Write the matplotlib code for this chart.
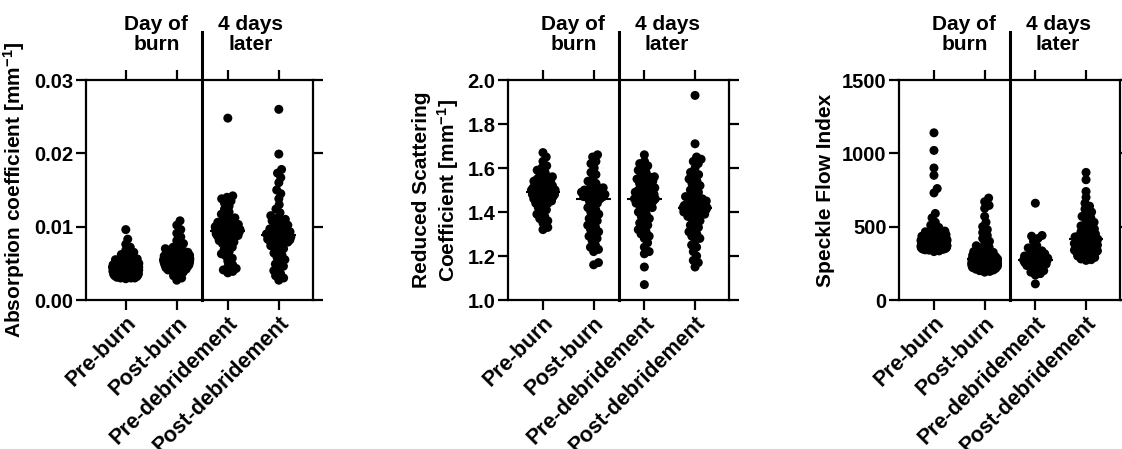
import numpy as np
import matplotlib
matplotlib.use("Agg")
import matplotlib.pyplot as plt

plt.rcParams['font.family'] = ['Liberation Sans', 'DejaVu Sans']
plt.rcParams['font.weight'] = 'bold'
plt.rcParams['mathtext.fontset'] = 'custom'
plt.rcParams['mathtext.rm'] = 'Liberation Sans:bold'
plt.rcParams['mathtext.bf'] = 'Liberation Sans:bold'
plt.rcParams['mathtext.it'] = 'Liberation Sans:bold:italic'

groups = ["Pre-burn", "Post-burn", "Pre-debridement", "Post-debridement"]

# absorption coefficient [mm-1]
abs_pre_burn = [0.0096, 0.0083, 0.0076, 0.0072, 0.0068, 0.0065, 0.0062, 0.0060, 0.0058, 0.0056,
                0.0055, 0.0054, 0.0053, 0.0052, 0.0051, 0.0050, 0.0050, 0.0049, 0.0049, 0.0048,
                0.0048, 0.0047, 0.0047, 0.0046, 0.0046, 0.0045, 0.0045, 0.0045, 0.0044, 0.0044,
                0.0043, 0.0043, 0.0042, 0.0042, 0.0041, 0.0041, 0.0040, 0.0040, 0.0039, 0.0039,
                0.0038, 0.0038, 0.0037, 0.0037, 0.0036, 0.0036, 0.0035, 0.0034, 0.0033, 0.0032,
                0.0031, 0.0030, 0.0030, 0.0029, 0.0030]
abs_post_burn = [0.0108, 0.0102, 0.0096, 0.0091, 0.0086, 0.0081, 0.0077, 0.0074, 0.0072, 0.0070,
                 0.0068, 0.0067, 0.0066, 0.0065, 0.0064, 0.0063, 0.0062, 0.0061, 0.0060, 0.0060,
                 0.0059, 0.0058, 0.0058, 0.0057, 0.0057, 0.0056, 0.0056, 0.0055, 0.0055, 0.0055,
                 0.0054, 0.0054, 0.0053, 0.0053, 0.0052, 0.0052, 0.0051, 0.0051, 0.0050, 0.0050,
                 0.0049, 0.0048, 0.0048, 0.0047, 0.0046, 0.0045, 0.0044, 0.0043, 0.0042, 0.0041,
                 0.0040, 0.0038, 0.0036, 0.0033, 0.0030, 0.0027]
abs_pre_debr = [0.0248, 0.0142, 0.0140, 0.0138, 0.0135, 0.0132, 0.0128, 0.0124, 0.0120, 0.0117,
                0.0114, 0.0112, 0.0110, 0.0108, 0.0106, 0.0104, 0.0103, 0.0102, 0.0101, 0.0100,
                0.0099, 0.0098, 0.0097, 0.0096, 0.0096, 0.0095, 0.0095, 0.0094, 0.0093, 0.0092,
                0.0091, 0.0090, 0.0089, 0.0088, 0.0087, 0.0086, 0.0085, 0.0083, 0.0081, 0.0079,
                0.0077, 0.0075, 0.0072, 0.0069, 0.0066, 0.0063, 0.0060, 0.0057, 0.0053, 0.0048,
                0.0045, 0.0043, 0.0041, 0.0039, 0.0037]
abs_post_debr = [0.0260, 0.0199, 0.0178, 0.0173, 0.0167, 0.0160, 0.0150, 0.0145, 0.0138, 0.0130,
                 0.0124, 0.0119, 0.0115, 0.0112, 0.0110, 0.0108, 0.0106, 0.0104, 0.0102, 0.0100,
                 0.0098, 0.0097, 0.0096, 0.0094, 0.0093, 0.0092, 0.0091, 0.0090, 0.0090, 0.0089,
                 0.0088, 0.0087, 0.0086, 0.0085, 0.0084, 0.0083, 0.0082, 0.0081, 0.0080, 0.0079,
                 0.0078, 0.0076, 0.0074, 0.0072, 0.0070, 0.0067, 0.0064, 0.0061, 0.0058, 0.0055,
                 0.0052, 0.0049, 0.0046, 0.0043, 0.0040, 0.0036, 0.0033, 0.0030, 0.0027]

# reduced scattering coefficient [mm-1]
sca_pre_burn = [1.67, 1.65, 1.63, 1.61, 1.60, 1.59, 1.58, 1.57, 1.56, 1.56, 1.55, 1.55, 1.54, 1.54,
                1.53, 1.53, 1.52, 1.52, 1.51, 1.51, 1.51, 1.50, 1.50, 1.50, 1.50, 1.49, 1.49, 1.49,
                1.48, 1.48, 1.48, 1.47, 1.47, 1.47, 1.46, 1.46, 1.45, 1.45, 1.44, 1.44, 1.43, 1.42,
                1.41, 1.40, 1.39, 1.38, 1.37, 1.36, 1.35, 1.33, 1.32]
sca_post_burn = [1.66, 1.65, 1.63, 1.62, 1.60, 1.58, 1.57, 1.55, 1.54, 1.53, 1.52, 1.51, 1.51, 1.50,
                 1.50, 1.50, 1.49, 1.49, 1.49, 1.48, 1.48, 1.48, 1.47, 1.47, 1.47, 1.46, 1.46, 1.45,
                 1.44, 1.43, 1.42, 1.41, 1.40, 1.39, 1.38, 1.37, 1.36, 1.35, 1.34, 1.33, 1.32, 1.31,
                 1.30, 1.29, 1.28, 1.27, 1.25, 1.24, 1.23, 1.22, 1.17, 1.16]
sca_pre_debr = [1.66, 1.63, 1.62, 1.61, 1.60, 1.59, 1.58, 1.57, 1.56, 1.56, 1.55, 1.55, 1.54, 1.53,
                1.53, 1.52, 1.51, 1.51, 1.50, 1.50, 1.49, 1.49, 1.48, 1.48, 1.47, 1.47, 1.46, 1.46,
                1.46, 1.45, 1.45, 1.44, 1.44, 1.43, 1.42, 1.42, 1.41, 1.40, 1.39, 1.38, 1.37, 1.36,
                1.35, 1.34, 1.33, 1.32, 1.31, 1.30, 1.29, 1.28, 1.26, 1.24, 1.22, 1.21, 1.15, 1.07]
sca_post_debr = [1.93, 1.71, 1.65, 1.64, 1.63, 1.62, 1.60, 1.58, 1.57, 1.56, 1.55, 1.54, 1.53, 1.52,
                 1.51, 1.50, 1.49, 1.48, 1.47, 1.47, 1.46, 1.46, 1.45, 1.45, 1.44, 1.44, 1.43, 1.43,
                 1.43, 1.42, 1.42, 1.42, 1.41, 1.41, 1.41, 1.40, 1.40, 1.40, 1.39, 1.39, 1.38, 1.38,
                 1.37, 1.36, 1.35, 1.34, 1.33, 1.32, 1.31, 1.30, 1.29, 1.28, 1.27, 1.25, 1.24, 1.22,
                 1.20, 1.18, 1.17, 1.15]

# speckle flow index
sfi_pre_burn = [1140, 1020, 900, 850, 760, 730, 590, 560, 530, 510, 495, 480, 470, 465, 460, 455,
                450, 445, 440, 435, 430, 425, 420, 418, 415, 412, 410, 408, 405, 402, 400, 398,
                395, 392, 390, 388, 385, 382, 380, 378, 375, 372, 370, 368, 365, 362, 360, 357,
                355, 352, 350, 347, 345, 342, 340, 335, 330]
sfi_post_burn = [695, 670, 645, 625, 570, 530, 500, 480, 460, 440, 420, 400, 385, 370, 360, 350,
                 340, 330, 325, 320, 315, 310, 305, 300, 295, 290, 285, 282, 280, 278, 275, 272,
                 270, 268, 265, 262, 260, 257, 255, 252, 250, 247, 245, 242, 240, 237, 235, 232,
                 230, 227, 225, 222, 220, 215, 210, 205, 200, 195, 190]
sfi_pre_debr = [660, 440, 435, 420, 400, 370, 355, 345, 335, 325, 315, 305, 300, 295, 290, 285,
                280, 275, 272, 270, 265, 260, 255, 250, 245, 240, 235, 228, 220, 210, 200, 190,
                180, 170, 110]
sfi_post_debr = [870, 820, 740, 700, 660, 640, 620, 600, 585, 570, 560, 545, 530, 520, 505, 495,
                 485, 475, 465, 455, 450, 440, 435, 430, 425, 420, 415, 410, 405, 400, 395, 390,
                 385, 380, 375, 370, 365, 360, 355, 350, 345, 340, 335, 330, 325, 320, 315, 310,
                 300, 290, 280, 275, 270]

panels = [
    dict(data=[abs_pre_burn, abs_post_burn, abs_pre_debr, abs_post_debr],
         ylabel="Absorption coefficient [mm$^{-1}$]", ylim=(0, 0.03),
         yticks=[0.0, 0.01, 0.02, 0.03], fmt="{:.2f}",
         rect=[86, 80, 227, 220], xlim=(-0.78, 3.67)),
    dict(data=[sca_pre_burn, sca_post_burn, sca_pre_debr, sca_post_debr],
         ylabel="Reduced Scattering\nCoefficient [mm$^{-1}$]", ylim=(1.0, 2.0),
         yticks=[1.0, 1.2, 1.4, 1.6, 1.8, 2.0], fmt="{:.1f}",
         rect=[508, 80, 221, 220], xlim=(-0.69, 3.67)),
    dict(data=[sfi_pre_burn, sfi_post_burn, sfi_pre_debr, sfi_post_debr],
         ylabel="Speckle Flow Index", ylim=(0, 1500),
         yticks=[0, 500, 1000, 1500], fmt="{:.0f}",
         rect=[899, 80, 221, 220], xlim=(-0.69, 3.67)),
]

W, H = 1122, 449
GAP = 5.5        # centre distance in px used for the swarm
MAX_HALF = 13.0  # half width of a swarm, px


def swarm(y_px, d):
    # simple beeswarm: put each point as close to the centre as possible
    order = np.argsort(y_px)
    xs = np.zeros(len(y_px))
    px, py = [], []
    for i in order:
        y = y_px[i]
        cands = [0.0]
        near = [(a, b) for a, b in zip(px, py) if abs(b - y) < d]
        for a, b in near:
            dx = np.sqrt(d * d - (b - y) ** 2)
            cands += [a + dx, a - dx]
        cands.sort(key=abs)
        for c in cands:
            if all((c - a) ** 2 + (y - b) ** 2 >= d * d - 1e-6 for a, b in near):
                xs[i] = c
                break
        px.append(xs[i])
        py.append(y)
    # squeeze wide rows so the swarm stays narrow
    return MAX_HALF * np.tanh(xs / MAX_HALF)


fig = plt.figure(figsize=(W / 100, H / 100), dpi=100)

for p in panels:
    l, t, w, h = p["rect"]
    ax = fig.add_axes([l / W, (H - t - h) / H, w / W, h / H])
    ax.set_xlim(*p["xlim"])
    ax.set_ylim(*p["ylim"])
    xs_per_px = (p["xlim"][1] - p["xlim"][0]) / w
    ys_per_px = (p["ylim"][1] - p["ylim"][0]) / h

    for i, vals in enumerate(p["data"]):
        v = np.array(vals, dtype=float)
        off = swarm(v / ys_per_px, GAP) * xs_per_px
        ax.scatter(i + off, v, s=42, color="black", edgecolors="none", zorder=3, clip_on=False)
        med = np.median(v)
        ax.hlines(med, i - 0.34, i + 0.34, color="black", lw=1.5, zorder=4)

    for s in ax.spines.values():
        s.set_linewidth(1.6)
    ax.tick_params(which="both", direction="out", length=7, width=1.6,
                   top=True, right=True, labeltop=False, labelright=False,
                   labelsize=14.5, pad=2)
    ax.set_yticks(p["yticks"])
    ax.set_yticklabels([p["fmt"].format(y) for y in p["yticks"]], fontweight="bold")
    ax.set_xticks(range(4))
    ax.set_xticklabels(groups, rotation=45, ha="right", rotation_mode="anchor",
                       fontweight="bold", fontsize=15.5)
    ax.set_ylabel(p["ylabel"], fontsize=15, fontweight="bold", labelpad=5)

    # divider between the two time points
    ax.plot([1.5, 1.5], [0, 1.22], color="black", lw=2.2,
            transform=ax.get_xaxis_transform(), clip_on=False, zorder=5)
    ax.text(0.6, 1.12, "Day of\nburn", transform=ax.get_xaxis_transform(),
            ha="center", va="bottom", fontsize=15, fontweight="bold", linespacing=1.05)
    ax.text(2.45, 1.12, "4 days\nlater", transform=ax.get_xaxis_transform(),
            ha="center", va="bottom", fontsize=15, fontweight="bold", linespacing=1.05)

fig.savefig("out.png", dpi=100)
